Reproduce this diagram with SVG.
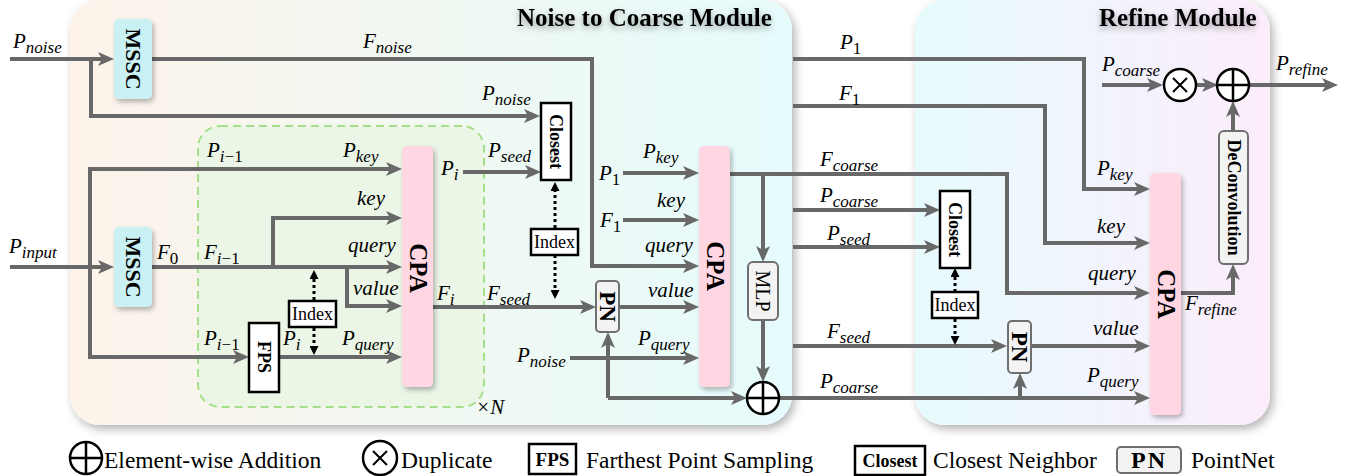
<svg xmlns="http://www.w3.org/2000/svg" width="1353" height="476" viewBox="0 0 1353 476">
<defs>
<linearGradient id="g1" x1="0" y1="0" x2="1" y2="0">
<stop offset="0" stop-color="#fdf3ea"/><stop offset="0.5" stop-color="#f1f8f2"/><stop offset="1" stop-color="#e6fbfc"/>
</linearGradient>
<linearGradient id="g2" x1="0" y1="0" x2="1" y2="0">
<stop offset="0" stop-color="#e7fbfc"/><stop offset="0.5" stop-color="#f1f4fc"/><stop offset="1" stop-color="#fcedfb"/>
</linearGradient>
<filter id="msh" x="-10%" y="-10%" width="125%" height="125%"><feDropShadow dx="3" dy="4" stdDeviation="5" flood-color="#000" flood-opacity="0.3"/></filter>
<filter id="nsh" x="-30%" y="-20%" width="170%" height="150%"><feDropShadow dx="2" dy="3" stdDeviation="2.5" flood-color="#000" flood-opacity="0.28"/></filter>
<filter id="tsh" x="-10%" y="-40%" width="120%" height="200%"><feDropShadow dx="0" dy="3" stdDeviation="3" flood-color="#000" flood-opacity="0.35"/></filter>
<marker id="ah" markerUnits="userSpaceOnUse" markerWidth="16" markerHeight="14" refX="8" refY="7" orient="auto" viewBox="0 0 16 14"><path d="M0,0 L16,7 L0,14 L4,7 z" fill="#686868"/></marker>
<marker id="dh" markerUnits="userSpaceOnUse" markerWidth="9" markerHeight="9" refX="3" refY="4.5" orient="auto" viewBox="0 0 9 9"><path d="M0,0 L9,4.5 L0,9 z" fill="#000"/></marker>
<style>
.ln{fill:none;stroke:#686868;stroke-width:4}
.ar{marker-end:url(#ah)}
.dot{fill:none;stroke:#000;stroke-width:3;stroke-dasharray:3 3;marker-end:url(#dh)}
.m{font-family:"Liberation Serif",serif;font-style:italic;font-size:21px;fill:#000}
.s{font-size:17px}
.u{font-style:normal}
.title{font-family:"Liberation Serif",serif;font-weight:bold;font-size:25px;fill:#000}
.nt{font-family:"Liberation Serif",serif;font-weight:bold;fill:#000;text-anchor:middle;dominant-baseline:central}
.rt{font-family:"Liberation Serif",serif;fill:#000;text-anchor:middle;dominant-baseline:central}
.lb{font-family:"Liberation Serif",serif;font-weight:bold;fill:#000;text-anchor:middle}
.cpa{fill:#ffd6e2}
.mssc{fill:#c9f1f4}
.bx{fill:#fff;stroke:#000;stroke-width:2.5}
.gb{fill:#f3f3f3;stroke:#6f6f6f;stroke-width:2}
.circ{fill:#fff;stroke:#000;stroke-width:2.5}
.cr{stroke:#000;stroke-width:2.5}
.lg{font-family:"Liberation Serif",serif;font-size:23.5px;fill:#000}
</style>
</defs>
<rect width="1353" height="476" fill="#fff"/>

<g id="module-noise-to-coarse">
<rect x="70" y="0" width="722" height="425" rx="30" fill="url(#g1)" filter="url(#msh)"/>
<text class="title" x="517" y="26" filter="url(#tsh)">Noise to Coarse Module</text>
</g>
<g id="module-refine">
<rect x="915" y="0" width="355" height="425" rx="30" fill="url(#g2)" filter="url(#msh)"/>
<text class="title" x="1099" y="26" filter="url(#tsh)">Refine Module</text>
</g>
<g id="repeat-block">
<rect x="198" y="126" width="286" height="281" rx="22" fill="#ebf6e7" stroke="#a6df8a" stroke-width="2" stroke-dasharray="8 5"/>
<text class="m" x="476" y="414" font-size="18">×<tspan>N</tspan></text>
</g>

<g id="connectors">
<path class="ln ar" d="M10,59 H106"/>
<path class="ln ar" d="M91,59 V116 H532"/>
<path class="ln ar" d="M152,59 H592 V266 H691"/>
<path class="ln ar" d="M10,267 H106"/>
<path class="ln ar" d="M90,267 V169 H394"/>
<path class="ln ar" d="M90,267 V357 H241"/>
<path class="ln ar" d="M152,267 H394"/>
<path class="ln ar" d="M273,267 V218 H394"/>
<path class="ln ar" d="M347,267 V306 H394"/>
<path class="ln ar" d="M279,357 H394"/>
<path class="ln ar" d="M463,172 H533"/>
<path class="ln ar" d="M433,307 H588"/>
<path class="ln ar" d="M619,307 H691"/>
<path class="ln ar" d="M623,173 H691"/>
<path class="ln ar" d="M623,220 H691"/>
<path class="ln ar" d="M570,358 H691"/>
<path class="ln ar" d="M608,398 V340"/>
<path class="ln ar" d="M608,398 H739"/>
<path class="ln ar" d="M730,174 H1007 V293 H1142"/>
<path class="ln ar" d="M763,174 V254"/>
<path class="ln ar" d="M763,320 V374"/>
<path class="ln ar" d="M779,398 H1142"/>
<path class="ln ar" d="M1020,398 V381"/>
<path class="ln ar" d="M793,59 H1084 V189 H1142"/>
<path class="ln ar" d="M793,106 H1045 V243 H1142"/>
<path class="ln ar" d="M793,210 H932"/>
<path class="ln ar" d="M793,247 H932"/>
<path class="ln ar" d="M793,346 H999"/>
<path class="ln ar" d="M1031,346 H1142"/>
<path class="ln ar" d="M1181,293 H1233 V272"/>
<path class="ln ar" d="M1233,131 V109"/>
<path class="ln ar" d="M1102,85 H1155"/>
<path class="ln ar" d="M1196,85 H1210"/>
<path class="ln ar" d="M1250,85 H1330"/>
<path class="dot" d="M314,300 V276"/>
<path class="dot" d="M314,328 V349"/>
<path class="dot" d="M555,228 V188"/>
<path class="dot" d="M555,255 V293"/>
<path class="dot" d="M955,292 V274"/>
<path class="dot" d="M955,319 V339"/>
</g>

<g id="labels">
<text class="m" x="13" y="48">P<tspan class="s" dy="5">noise</tspan></text>
<text class="m" x="363" y="48">F<tspan class="s" dy="5">noise</tspan></text>
<text class="m" x="482" y="100">P<tspan class="s" dy="5">noise</tspan></text>
<text class="m" x="207" y="157">P<tspan class="s" dy="5">i<tspan class="u">−1</tspan></tspan></text>
<text class="m" x="343" y="157">P<tspan class="s" dy="5">key</tspan></text>
<text class="m" x="357" y="205">key</text>
<text class="m" x="9" y="253">P<tspan class="s" dy="5">input</tspan></text>
<text class="m" x="157" y="259">F<tspan class="s u" dy="5">0</tspan></text>
<text class="m" x="204" y="259">F<tspan class="s" dy="5">i<tspan class="u">−1</tspan></tspan></text>
<text class="m" x="348" y="252">query</text>
<text class="m" x="353" y="295">value</text>
<text class="m" x="204" y="345">P<tspan class="s" dy="5">i<tspan class="u">−1</tspan></tspan></text>
<text class="m" x="283" y="345">P<tspan class="s" dy="5">i</tspan></text>
<text class="m" x="342" y="345">P<tspan class="s" dy="5">query</tspan></text>
<text class="m" x="441" y="175">P<tspan class="s" dy="5">i</tspan></text>
<text class="m" x="488" y="157">P<tspan class="s" dy="5">seed</tspan></text>
<text class="m" x="437" y="300">F<tspan class="s" dy="5">i</tspan></text>
<text class="m" x="487" y="300">F<tspan class="s" dy="5">seed</tspan></text>
<text class="m" x="599" y="180">P<tspan class="s u" dy="5">1</tspan></text>
<text class="m" x="643" y="158">P<tspan class="s" dy="5">key</tspan></text>
<text class="m" x="600" y="227">F<tspan class="s u" dy="5">1</tspan></text>
<text class="m" x="657" y="207">key</text>
<text class="m" x="645" y="252">query</text>
<text class="m" x="648" y="297">value</text>
<text class="m" x="517" y="362">P<tspan class="s" dy="5">noise</tspan></text>
<text class="m" x="638" y="345">P<tspan class="s" dy="5">query</tspan></text>
<text class="m" x="840" y="49">P<tspan class="s u" dy="5">1</tspan></text>
<text class="m" x="839" y="100">F<tspan class="s u" dy="5">1</tspan></text>
<text class="m" x="820" y="166">F<tspan class="s" dy="5">coarse</tspan></text>
<text class="m" x="820" y="202">P<tspan class="s" dy="5">coarse</tspan></text>
<text class="m" x="827" y="240">P<tspan class="s" dy="5">seed</tspan></text>
<text class="m" x="827" y="338">F<tspan class="s" dy="5">seed</tspan></text>
<text class="m" x="820" y="388">P<tspan class="s" dy="5">coarse</tspan></text>
<text class="m" x="1097" y="175">P<tspan class="s" dy="5">key</tspan></text>
<text class="m" x="1097" y="233">key</text>
<text class="m" x="1088" y="280">query</text>
<text class="m" x="1093" y="335">value</text>
<text class="m" x="1087" y="382">P<tspan class="s" dy="5">query</tspan></text>
<text class="m" x="1185" y="310">F<tspan class="s" dy="5">refine</tspan></text>
<text class="m" x="1102" y="71">P<tspan class="s" dy="5">coarse</tspan></text>
<text class="m" x="1276" y="70">P<tspan class="s" dy="5">refine</tspan></text>
</g>

<g id="mssc-1"><rect class="mssc" x="114" y="19" width="38" height="80" rx="5" filter="url(#nsh)"/><text class="nt" font-size="22" transform="translate(133,59) rotate(90)">MSSC</text></g>
<g id="mssc-2"><rect class="mssc" x="114" y="227" width="38" height="80" rx="5" filter="url(#nsh)"/><text class="nt" font-size="22" transform="translate(133,267) rotate(90)">MSSC</text></g>
<g id="cpa-1"><rect class="cpa" x="402" y="146" width="31" height="241" rx="5" filter="url(#nsh)"/><text class="nt" font-size="25" transform="translate(418,268) rotate(90)">CPA</text></g>
<g id="cpa-2"><rect class="cpa" x="699" y="146" width="31" height="241" rx="5" filter="url(#nsh)"/><text class="nt" font-size="25" transform="translate(715,266) rotate(90)">CPA</text></g>
<g id="cpa-3"><rect class="cpa" x="1150" y="173" width="31" height="242" rx="5" filter="url(#nsh)"/><text class="nt" font-size="25" transform="translate(1166,294) rotate(90)">CPA</text></g>
<g id="fps"><rect class="bx" x="249" y="323" width="30" height="69"/><text class="nt" font-size="18" transform="translate(264,357) rotate(90)">FPS</text></g>
<g id="index-1"><rect class="bx" x="289" y="301" width="47" height="26" stroke-width="2"/><text class="rt" font-size="18" x="312.5" y="314">Index</text></g>
<g id="closest-1"><rect class="bx" x="541" y="103" width="30" height="77"/><text class="nt" font-size="18" transform="translate(556,141.5) rotate(90)">Closest</text></g>
<g id="index-2"><rect class="bx" x="531" y="229" width="47" height="26" stroke-width="2"/><text class="rt" font-size="18" x="554.5" y="242">Index</text></g>
<g id="pn-1"><rect class="gb" x="596" y="281" width="23" height="51" rx="4"/><text class="nt" font-size="23" transform="translate(607.5,306.5) rotate(90)">PN</text></g>
<g id="mlp"><rect class="gb" x="748" y="262" width="30" height="58" rx="5"/><text class="rt" font-size="20" transform="translate(763,291) rotate(90)">MLP</text></g>
<g id="add-1"><circle class="circ" cx="763" cy="398" r="16"/><path class="cr" d="M747,398 H779 M763,382 V414"/></g>
<g id="closest-2"><rect class="bx" x="940" y="191" width="30" height="77"/><text class="nt" font-size="18" transform="translate(955,229.5) rotate(90)">Closest</text></g>
<g id="index-3"><rect class="bx" x="932" y="292" width="46" height="26" stroke-width="2"/><text class="rt" font-size="18" x="955" y="305">Index</text></g>
<g id="pn-2"><rect class="gb" x="1008" y="321" width="23" height="52" rx="4"/><text class="nt" font-size="23" transform="translate(1019.5,347) rotate(90)">PN</text></g>
<g id="deconvolution"><rect class="gb" x="1219" y="131" width="29" height="133" rx="5"/><text class="nt" font-size="18" transform="translate(1233.5,197.5) rotate(90)">DeConvolution</text></g>
<g id="duplicate"><circle class="circ" cx="1180" cy="85" r="16"/><path stroke="#000" stroke-width="2" d="M1173,78 L1187,92 M1187,78 L1173,92"/></g>
<g id="add-2"><circle class="circ" cx="1233" cy="85" r="16"/><path class="cr" d="M1217,85 H1249 M1233,69 V101"/></g>

<g id="legend">
<circle class="circ" cx="86" cy="458" r="16"/><path class="cr" d="M70,458 H102 M86,442 V474"/>
<text class="lg" x="104" y="468">Element-wise Addition</text>
<circle class="circ" cx="380" cy="458" r="17"/><path stroke="#000" stroke-width="2" d="M373,451 L387,465 M387,451 L373,465"/>
<text class="lg" x="401" y="468">Duplicate</text>
<rect class="bx" x="529" y="444" width="47" height="30"/>
<text class="lb" x="552.5" y="466" font-size="19">FPS</text>
<text class="lg" x="586" y="468">Farthest Point Sampling</text>
<rect class="bx" x="855" y="446" width="70" height="29"/>
<text class="lb" x="890" y="467" font-size="18">Closest</text>
<text class="lg" x="933" y="468">Closest Neighbor</text>
<rect class="gb" x="1117" y="447" width="64" height="26" rx="4"/>
<text class="lb" x="1149" y="468" font-size="24" letter-spacing="2" fill="#333">PN</text>
<text class="lg" x="1191" y="468">PointNet</text>
</g>
</svg>
